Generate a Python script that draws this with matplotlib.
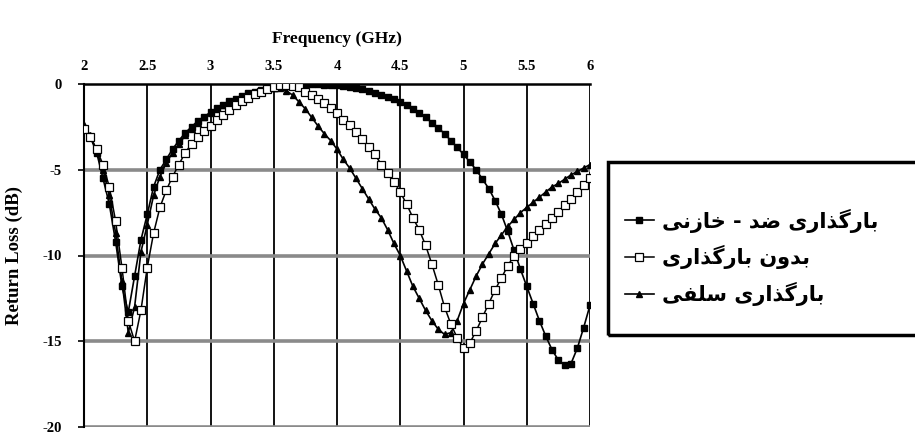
import numpy as np
import matplotlib
matplotlib.use("Agg")
import matplotlib.pyplot as plt
from matplotlib.patches import Rectangle

# ---------------- data ----------------
freq = [round(2.0 + 0.05 * i, 2) for i in range(81)]

anti_capacitive = [
    -2.6, -3.1, -4.0, -5.5, -7.0, -9.2, -11.8, -13.3, -11.2, -9.1,
    -7.6, -6.0, -5.0, -4.4, -3.8, -3.3, -2.85, -2.5, -2.15, -1.9,
    -1.65, -1.4, -1.2, -1.0, -0.85, -0.7, -0.55, -0.45, -0.35, -0.28,
    -0.22, -0.17, -0.12, -0.08, -0.05, -0.03, -0.02, -0.02, -0.03, -0.05,
    -0.08, -0.12, -0.17, -0.23, -0.3, -0.4, -0.5, -0.62, -0.75, -0.9,
    -1.05, -1.25, -1.45, -1.7, -1.95, -2.25, -2.55, -2.9, -3.3, -3.7,
    -4.1, -4.55, -5.0, -5.55, -6.1, -6.8, -7.6, -8.6, -9.7, -10.8,
    -11.8, -12.8, -13.8, -14.7, -15.5, -16.1, -16.4, -16.3, -15.4, -14.2,
    -12.9]

no_loading = [
    -2.6, -3.1, -3.8, -4.7, -6.0, -8.0, -10.7, -13.8, -15.0, -13.2,
    -10.7, -8.7, -7.2, -6.2, -5.4, -4.7, -4.0, -3.5, -3.1, -2.75,
    -2.45, -2.1, -1.8, -1.5, -1.2, -1.0, -0.8, -0.6, -0.45, -0.3,
    -0.15, -0.05, -0.05, -0.1, -0.2, -0.45, -0.65, -0.85, -1.1, -1.4,
    -1.7, -2.1, -2.4, -2.8, -3.2, -3.7, -4.1, -4.7, -5.2, -5.7,
    -6.3, -7.0, -7.8, -8.5, -9.4, -10.5, -11.7, -13.0, -14.0, -14.8,
    -15.4, -15.1, -14.4, -13.6, -12.8, -12.0, -11.3, -10.6, -10.0, -9.6,
    -9.25, -8.85, -8.5, -8.15, -7.8, -7.45, -7.05, -6.7, -6.3, -5.9,
    -5.5]

inductive = [
    -2.4, -3.0, -3.9, -5.0, -6.5, -8.7, -11.5, -14.5, -13.0, -9.8,
    -8.2, -6.5, -5.4, -4.6, -4.0, -3.5, -3.0, -2.6, -2.25, -1.95,
    -1.7, -1.45, -1.25, -1.05, -0.9, -0.75, -0.6, -0.5, -0.4, -0.3,
    -0.22, -0.25, -0.4, -0.65, -1.05, -1.45, -1.95, -2.45, -2.9, -3.3,
    -3.8, -4.4, -4.9, -5.5, -6.1, -6.7, -7.3, -7.8, -8.5, -9.3,
    -10.0, -10.9, -11.8, -12.5, -13.2, -13.8, -14.3, -14.6, -14.5, -13.8,
    -12.8, -12.0, -11.2, -10.5, -9.9, -9.3, -8.8, -8.3, -7.9, -7.5,
    -7.2, -6.9, -6.6, -6.3, -6.0, -5.8, -5.55, -5.3, -5.1, -4.9,
    -4.7]

labels = ["بارگذاری ضد - خازنی", "بدون بارگذاری", "بارگذاری سلفی"]
x_ticks = [2, 2.5, 3, 3.5, 4, 4.5, 5, 5.5, 6]
x_tick_labels = ["2", "2.5", "3", "3.5", "4", "4.5", "5", "5.5", "6"]
y_ticks = [0, -5, -10, -15, -20]
y_tick_labels = ["0", "-5", "-10", "-15", "-20"]

# ---------------- simple Arabic/Persian shaping ----------------
FORMS = {  # isolated, final, initial, medial
    'ب': ('\uFE8F', '\uFE90', '\uFE91', '\uFE92'),
    'ا': ('\uFE8D', '\uFE8E', None, None),
    'ر': ('\uFEAD', '\uFEAE', None, None),
    'گ': ('\uFB92', '\uFB93', '\uFB94', '\uFB95'),
    'ذ': ('\uFEAB', '\uFEAC', None, None),
    'ی': ('\uFBFC', '\uFBFD', '\uFBFE', '\uFBFF'),
    'ض': ('\uFEBD', '\uFEBE', '\uFEBF', '\uFEC0'),
    'د': ('\uFEA9', '\uFEAA', None, None),
    'خ': ('\uFEA5', '\uFEA6', '\uFEA7', '\uFEA8'),
    'ز': ('\uFEAF', '\uFEB0', None, None),
    'ن': ('\uFEE5', '\uFEE6', '\uFEE7', '\uFEE8'),
    'و': ('\uFEED', '\uFEEE', None, None),
    'س': ('\uFEB1', '\uFEB2', '\uFEB3', '\uFEB4'),
    'ل': ('\uFEDD', '\uFEDE', '\uFEDF', '\uFEE0'),
    'ف': ('\uFED1', '\uFED2', '\uFED3', '\uFED4'),
}


def shape(text):
    out = []
    n = len(text)
    for i, ch in enumerate(text):
        if ch not in FORMS:
            out.append(ch)
            continue
        f = FORMS[ch]
        prev = text[i - 1] if i > 0 else None
        nxt = text[i + 1] if i < n - 1 else None
        join_prev = prev in FORMS and FORMS[prev][2] is not None
        join_next = f[2] is not None and nxt in FORMS
        if join_prev and join_next:
            out.append(f[3])
        elif join_prev:
            out.append(f[1])
        elif join_next:
            out.append(f[2])
        else:
            out.append(f[0])
    return ''.join(out)[::-1]


# ---------------- figure ----------------
W, H = 915, 434
fig = plt.figure(figsize=(W / 100, H / 100), dpi=100)
ax = fig.add_axes([84 / W, 1 - 427 / H, (590 - 84) / W, (427 - 84) / H])

serif = {'family': 'Liberation Serif', 'weight': 'bold'}

ax.set_xlim(2, 6)
ax.set_ylim(-20, 0)

# grid
for xv in x_ticks[1:]:
    ax.axvline(xv, color='black', lw=1.3, zorder=1)
for yv in [-5, -10, -15, -20]:
    ax.axhline(yv, color='#8a8a8a', lw=2.6, zorder=1)

for s in ['bottom', 'right']:
    ax.spines[s].set_visible(False)
ax.spines['top'].set_linewidth(1.8)
ax.spines['left'].set_linewidth(1.5)

ax.plot(freq, anti_capacitive, color='black', lw=1.2, marker='s', ms=5.0,
        mfc='black', mec='black', label=shape(labels[0]), zorder=3)
ax.plot(freq, no_loading, color='black', lw=1.1, marker='s', ms=5.4,
        mfc='white', mec='black', mew=0.9, label=shape(labels[1]), zorder=4)
ax.plot(freq, inductive, color='black', lw=1.2, marker='^', ms=5.0,
        mfc='black', mec='black', label=shape(labels[2]), zorder=3)

ax.xaxis.tick_top()
ax.xaxis.set_label_position('top')
ax.set_xticks(x_ticks)
ax.set_xticklabels(x_tick_labels, fontdict=serif, fontsize=10.5)
ax.set_yticks(y_ticks)
ax.set_yticklabels(y_tick_labels, fontdict=serif, fontsize=10.5)
ax.tick_params(axis='x', length=0, pad=8)
ax.tick_params(axis='y', length=4, width=1.2, pad=12)
ax.set_xlabel('Frequency (GHz)', fontdict=serif, fontsize=12.5, labelpad=12)
ax.set_ylabel('Return Loss (dB)', fontdict=serif, fontsize=13.5, labelpad=14)

# legend
fig.patches.append(Rectangle((608 / W, 1 - 335 / H), 400 / W, (335 - 162) / H,
                             transform=fig.transFigure, fill=False,
                             edgecolor='black', lw=2.5, clip_on=False))
leg = fig.legend(loc='upper left', bbox_to_anchor=(610 / W, 1 - 194 / H),
                 frameon=False, prop={'family': 'DejaVu Sans', 'weight': 'bold', 'size': 15},
                 handlelength=1.4, handletextpad=0.4, labelspacing=0.6,
                 borderpad=0.2)

fig.savefig('out.png', dpi=100)
